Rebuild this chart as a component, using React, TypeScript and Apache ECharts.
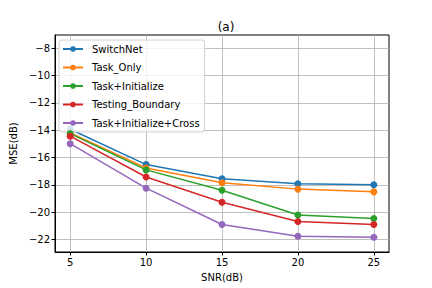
import React, { useEffect, useRef } from "react";
import * as echarts from "echarts";

const snr = [5, 10, 15, 20, 25];
const xTicks = [5, 10, 15, 20, 25];
const yTicks = [-22, -20, -18, -16, -14, -12, -10, -8];
const seriesNames = ["SwitchNet", "Task_Only", "Task+Initialize", "Testing_Boundary", "Task+Initialize+Cross"];
const switchNet = [-13.93, -16.52, -17.56, -17.93, -18.0];
const taskOnly = [-14.2, -16.77, -17.85, -18.32, -18.52];
const taskInit = [-14.25, -16.91, -18.4, -20.22, -20.47];
const testingBoundary = [-14.44, -17.43, -19.28, -20.69, -20.91];
const taskInitCross = [-14.99, -18.25, -20.91, -21.78, -21.85];
const colors = ["#1f77b4", "#ff7f0e", "#2ca02c", "#d62728", "#9467bd"];

const FONT = "DejaVu Sans";

export default function App() {
  const ref = useRef<HTMLDivElement>(null);
  useEffect(() => {
    if (!ref.current) return;
    const chart = echarts.init(ref.current, null, { renderer: "svg" });
    const allData = [switchNet, taskOnly, taskInit, testingBoundary, taskInitCross];
    const fmt = (v: number) => String(v).replace("-", "\u2212");
    chart.setOption({
      animation: false,
      backgroundColor: "#ffffff",
      textStyle: { fontFamily: FONT },
      title: {
        text: "(a)",
        left: 221,
        textAlign: "center",
        top: 16,
        textStyle: { fontFamily: FONT, fontSize: 12, fontWeight: "normal", color: "#000" },
      },
      legend: {
        orient: "vertical",
        left: 59,
        top: 40,
        itemWidth: 20,
        itemHeight: 7,
        itemGap: 8.5,
        padding: [4, 5, 4, 3],
        backgroundColor: "rgba(255,255,255,0.8)",
        borderColor: "#d0d0d0",
        borderWidth: 1,
        borderRadius: 3,
        textStyle: { fontFamily: FONT, fontSize: 10, color: "#000", padding: [0, 0, 0, 4] },
        data: seriesNames,
      },
      grid: { left: 54, right: 43, top: 35, bottom: 36, containLabel: false, show: true, borderColor: "#000", borderWidth: 1, backgroundColor: "transparent" },
      xAxis: {
        type: "value",
        min: 4,
        max: 26,
        name: "SNR(dB)",
        nameLocation: "middle",
        nameGap: 20,
        nameTextStyle: { fontFamily: FONT, fontSize: 10, color: "#000" },
        axisLine: { show: true, onZero: false, lineStyle: { color: "#000", width: 1 } },
        axisTick: { show: true, length: 3.5, lineStyle: { color: "#000" }, customValues: xTicks },
        axisLabel: { fontFamily: FONT, fontSize: 10, color: "#000", margin: 5, customValues: xTicks },
        splitLine: { show: true, lineStyle: { color: "#b0b0b0", width: 0.8 } },
      },
      yAxis: {
        type: "value",
        min: -22.93,
        max: -7.02,
        name: "MSE(dB)",
        nameLocation: "middle",
        nameGap: 33,
        nameTextStyle: { fontFamily: FONT, fontSize: 10, color: "#000" },
        axisLine: { show: true, onZero: false, lineStyle: { color: "#000", width: 1 } },
        axisTick: { show: true, length: 3.5, lineStyle: { color: "#000" }, customValues: yTicks },
        axisLabel: { fontFamily: FONT, fontSize: 10, color: "#000", margin: 5, customValues: yTicks, formatter: fmt },
        splitLine: { show: true, lineStyle: { color: "#b0b0b0", width: 0.8 } },
      },
      series: seriesNames.map((name, i) => ({
        name,
        type: "line",
        data: snr.map((x, j) => [x, allData[i][j]]),
        symbol: "circle",
        symbolSize: 7,
        lineStyle: { width: 1.5, color: colors[i] },
        itemStyle: { color: colors[i] },
        color: colors[i],
        z: 2 + i,
      })),
    });
    return () => chart.dispose();
  }, []);
  return <div ref={ref} style={{ width: 432, height: 288, position: "absolute", left: 0, top: 0 }} />;
}
